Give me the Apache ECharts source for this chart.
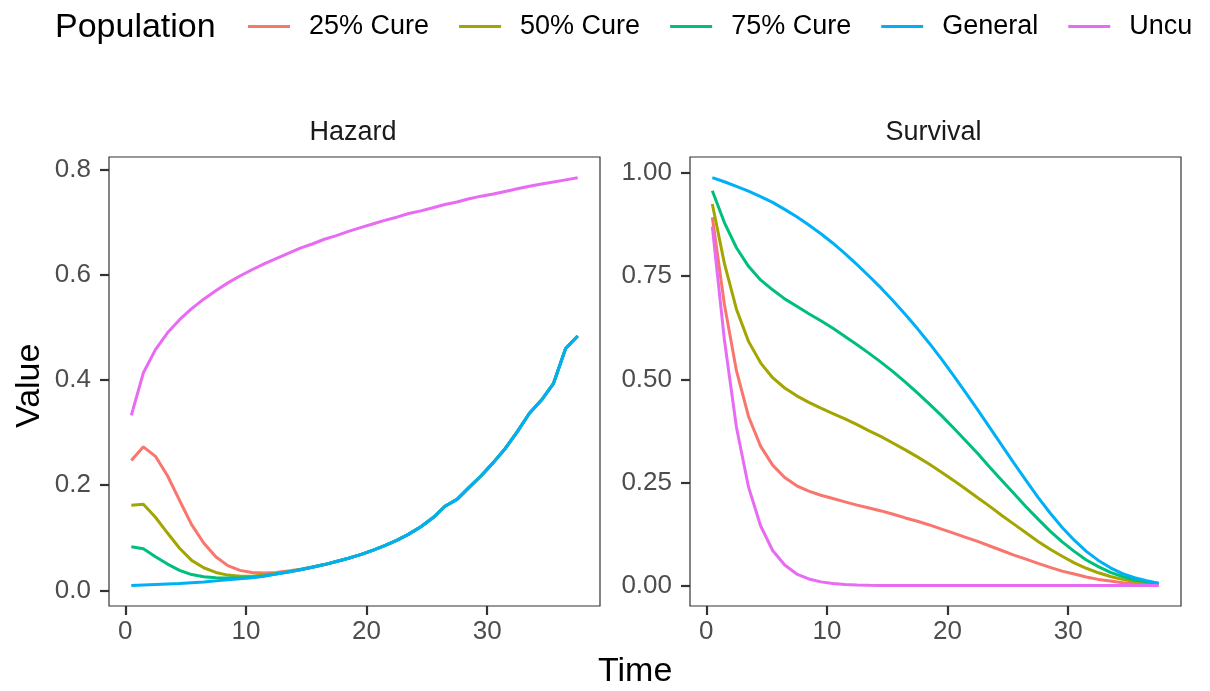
<!DOCTYPE html>
<html>
<head>
<meta charset="utf-8">
<script src="https://cdn.jsdelivr.net/npm/echarts@6/dist/echarts.min.js"></script>
<style>
html,body{margin:0;padding:0;background:#fff;}
#chart{width:1210px;height:691px;}
</style>
</head>
<body>
<div id="chart"></div>
<script>
const times = [0.5,1.5,2.5,3.5,4.5,5.5,6.5,7.5,8.5,9.5,10.5,11.5,12.5,13.5,14.5,15.5,16.5,17.5,18.5,19.5,20.5,21.5,22.5,23.5,24.5,25.5,26.5,27.5,28.5,29.5,30.5,31.5,32.5,33.5,34.5,35.5,36.5,37.5];

const populations = ['25% Cure','50% Cure','75% Cure','General','Uncured'];
const colors = ['#F8766D','#A3A500','#00BF7D','#00B0F6','#E76BF3'];

// Hazard panel
const haz25 = [0.247,0.273,0.255,0.218,0.171,0.125,0.090,0.064,0.047,0.038,0.034,0.033,0.034,0.037,0.040,0.0445,0.049,0.055,0.061,0.068,0.076,0.085,0.095,0.107,0.121,0.138,0.160,0.173,0.196,0.218,0.243,0.270,0.302,0.337,0.362,0.394,0.460,0.484];
const haz50 = [0.162,0.164,0.139,0.109,0.080,0.057,0.043,0.034,0.029,0.027,0.027,0.029,0.032,0.0355,0.0393,0.044,0.049,0.055,0.061,0.068,0.076,0.085,0.095,0.107,0.121,0.138,0.160,0.173,0.196,0.218,0.243,0.270,0.302,0.337,0.362,0.394,0.460,0.484];
const haz75 = [0.083,0.079,0.064,0.050,0.038,0.030,0.026,0.024,0.0235,0.0235,0.025,0.0275,0.031,0.035,0.039,0.044,0.049,0.055,0.061,0.068,0.076,0.085,0.095,0.107,0.121,0.138,0.160,0.173,0.196,0.218,0.243,0.270,0.302,0.337,0.362,0.394,0.460,0.484];
const hazGeneral = [0.009,0.010,0.011,0.012,0.013,0.0145,0.016,0.018,0.020,0.022,0.024,0.027,0.031,0.035,0.039,0.044,0.049,0.055,0.061,0.068,0.076,0.085,0.095,0.107,0.121,0.138,0.160,0.173,0.196,0.218,0.243,0.270,0.302,0.337,0.362,0.394,0.460,0.484];
const hazUncured = [0.333,0.414,0.458,0.490,0.515,0.536,0.554,0.570,0.585,0.598,0.610,0.621,0.631,0.641,0.651,0.659,0.668,0.675,0.683,0.690,0.697,0.704,0.710,0.717,0.722,0.728,0.734,0.739,0.745,0.750,0.754,0.759,0.764,0.769,0.773,0.777,0.781,0.785];

// Survival panel
const surv25 = [0.893,0.682,0.521,0.410,0.338,0.292,0.262,0.242,0.229,0.219,0.211,0.203,0.195,0.188,0.181,0.173,0.164,0.156,0.147,0.137,0.127,0.117,0.107,0.096,0.085,0.074,0.064,0.054,0.044,0.035,0.028,0.021,0.015,0.011,0.007,0.005,0.003,0.0015];
const surv50 = [0.925,0.781,0.670,0.592,0.540,0.504,0.479,0.460,0.444,0.430,0.417,0.404,0.390,0.375,0.361,0.345,0.329,0.312,0.294,0.275,0.255,0.234,0.213,0.192,0.170,0.149,0.128,0.107,0.088,0.071,0.055,0.042,0.031,0.022,0.015,0.010,0.006,0.003];
const surv75 = [0.957,0.880,0.819,0.774,0.741,0.717,0.695,0.677,0.659,0.642,0.624,0.604,0.584,0.563,0.541,0.518,0.493,0.467,0.440,0.412,0.382,0.351,0.320,0.287,0.255,0.223,0.191,0.161,0.132,0.106,0.083,0.062,0.046,0.032,0.022,0.014,0.009,0.005];
const survGeneral = [0.989,0.979,0.968,0.956,0.943,0.929,0.912,0.894,0.874,0.853,0.830,0.805,0.778,0.750,0.721,0.690,0.657,0.623,0.587,0.549,0.509,0.468,0.426,0.383,0.340,0.297,0.255,0.214,0.176,0.141,0.110,0.083,0.061,0.043,0.029,0.019,0.012,0.006];
const survUncured = [0.870,0.596,0.384,0.239,0.145,0.085,0.050,0.028,0.016,0.009,0.005,0.0026,0.0014,0.0007,0.0004,0.0002,0.0001,0,0,0,0,0,0,0,0,0,0,0,0,0,0,0,0,0,0,0,0,0];

const xTicks = [0,10,20,30];
const hazTicks = [0,0.2,0.4,0.6,0.8];
const survTicks = [0,0.25,0.5,0.75,1];

const hazardData = [haz25, haz50, haz75, hazGeneral, hazUncured];
const survivalData = [surv25, surv50, surv75, survGeneral, survUncured];

const FONT = '"Liberation Sans", Arial, Helvetica, sans-serif';

function pairs(vals){ return times.map((t,i)=>[t, vals[i]]); }

const series = [];
populations.forEach((name, i) => {
  [hazardData[i], survivalData[i]].forEach((vals, g) => {
    series.push({
      name: name,
      type: 'line',
      xAxisIndex: g,
      yAxisIndex: g,
      data: pairs(vals),
      showSymbol: false,
      symbol: 'none',
      smooth: false,
      lineStyle: {color: colors[i], width: 3},
      itemStyle: {color: colors[i]},
      z: 2 + i
    });
  });
});

function xAxis(gi){
  return {
    type: 'value', gridIndex: gi, min: -1.35, max: 39.35,
    axisLine: {show: false, onZero: false},
    splitLine: {show: false},
    axisTick: {show: true, inside: false, length: 9, customValues: xTicks, lineStyle: {color: '#333333', width: 2.2}},
    axisLabel: {customValues: xTicks, margin: 13, fontSize: 26, color: '#4d4d4d', fontFamily: FONT}
  };
}
function yAxis(gi, ticks, mn, mx, dec){
  return {
    type: 'value', gridIndex: gi, min: mn, max: mx,
    axisLine: {show: false, onZero: false},
    splitLine: {show: false},
    axisTick: {show: true, inside: false, length: 9, customValues: ticks, lineStyle: {color: '#333333', width: 2.2}},
    axisLabel: {customValues: ticks, margin: 18, fontSize: 26, color: '#4d4d4d', fontFamily: FONT,
      formatter: v => Number(v).toFixed(dec)}
  };
}

const chart = echarts.init(document.getElementById('chart'), null, {renderer: 'canvas'});
chart.setOption({
  animation: false,
  backgroundColor: '#ffffff',
  title: {
    text: 'Population', left: 50, top: 6,
    textStyle: {fontSize: 34, fontWeight: 'normal', color: '#000000', fontFamily: FONT}
  },
  legend: {
    left: 243, top: 8,
    icon: 'rect', itemWidth: 42, itemHeight: 3, itemGap: 30,
    textStyle: {fontSize: 27, color: '#000000', fontFamily: FONT, padding: [0,0,0,14]},
    data: populations.map(n => n === 'Uncured'
      ? {name: n, textStyle: {width: 70, overflow: 'truncate', ellipsis: ''}}
      : {name: n})
  },
  grid: [
    {left: 109, top: 157, width: 491, height: 449, show: true, borderColor: '#333333', borderWidth: 1.2, backgroundColor: 'transparent'},
    {left: 690, top: 157, width: 491, height: 449, show: true, borderColor: '#333333', borderWidth: 1.2, backgroundColor: 'transparent'}
  ],
  xAxis: [xAxis(0), xAxis(1)],
  yAxis: [yAxis(0, hazTicks, -0.0298, 0.8245, 1), yAxis(1, survTicks, -0.0495, 1.039, 2)],
  graphic: [
    {type: 'text', left: 354.5 - 45, top: 119, style: {text: 'Hazard', fontSize: 27, fill: '#1a1a1a', fontFamily: FONT}},
    {type: 'text', left: 935.5 - 50, top: 119, style: {text: 'Survival', fontSize: 27, fill: '#1a1a1a', fontFamily: FONT}},
    {type: 'text', left: 598, top: 655, style: {text: 'Time', fontSize: 34, fill: '#000000', fontFamily: FONT}},
    {type: 'text', x: 13, y: 428, rotation: Math.PI/2, style: {text: 'Value', fontSize: 34, fill: '#000000', fontFamily: FONT}}
  ],
  series: series
});
</script>
</body>
</html>
